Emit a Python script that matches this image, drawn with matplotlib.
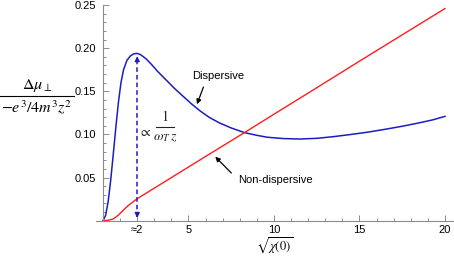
import numpy as np
import matplotlib
matplotlib.use("Agg")
import matplotlib.pyplot as plt
from matplotlib.lines import Line2D
from matplotlib.ticker import MultipleLocator, FixedLocator

# values
disp_x = [0.0, 0.15, 0.3, 0.45, 0.6, 0.75, 0.9, 1.05, 1.2, 1.4, 1.6, 1.8, 2.0,
          2.2, 2.5, 2.8, 3.2, 3.7, 4.2, 4.7, 5.2, 5.7, 6.2, 6.8, 7.5, 8.3,
          9.0, 9.6, 10.5, 11.5, 12.5, 13.5, 14.5, 15.5, 16.5, 17.5, 18.5,
          19.3, 20.0]
disp_y = [0.0, 0.006, 0.022, 0.047, 0.077, 0.108, 0.137, 0.160, 0.175, 0.186,
          0.191, 0.1935, 0.194, 0.1925, 0.188, 0.182, 0.173, 0.163, 0.153,
          0.144, 0.135, 0.127, 0.120, 0.1135, 0.1075, 0.102, 0.099, 0.0968,
          0.0953, 0.0947, 0.0955, 0.0975, 0.100, 0.1027, 0.106, 0.1095,
          0.1135, 0.117, 0.121]

nondisp_x = [0.0, 0.3, 0.6, 0.9, 1.2, 1.5, 2.0, 4.0, 6.0, 8.3, 10.0, 12.0,
             15.0, 20.0]
nondisp_y = [0.0, 0.0005, 0.002, 0.0065, 0.0125, 0.018, 0.0255, 0.050,
             0.0745, 0.1025, 0.1235, 0.148, 0.185, 0.246]

peak_x = 2.0
peak_y = 0.194

xticks = [2, 5, 10, 15, 20]
xticklabels = ["\u22482", "5", "10", "15", "20"]
yticks = [0.05, 0.10, 0.15, 0.20, 0.25]
yticklabels = ["0.05", "0.10", "0.15", "0.20", "0.25"]

plt.rcParams["font.family"] = ["Liberation Sans", "DejaVu Sans"]
plt.rcParams["mathtext.fontset"] = "stix"

blue = "#1c1cc4"
red = "#ff1c1c"
axcol = "#8c8c8c"

W, H = 454, 257
fig = plt.figure(figsize=(W / 100, H / 100), dpi=100)
ax = fig.add_axes([96 / W, (H - 220.7) / H, 357 / W, 215.6 / H])
ax.set_xlim(-0.41, 20.47)
ax.set_ylim(0, 0.25)

ax.plot(disp_x, disp_y, color=blue, lw=1.1)
ax.plot(nondisp_x, nondisp_y, color=red, lw=1.0)

# dashed double arrow at the peak
ax.plot([peak_x, peak_x], [0.004, peak_y - 0.004], color=blue, lw=1.1,
        ls=(0, (3, 2)))
ax.annotate("", xy=(peak_x, peak_y), xytext=(peak_x, peak_y - 0.012),
            arrowprops=dict(arrowstyle="-|>", color=blue, lw=1.0,
                            mutation_scale=7))
ax.annotate("", xy=(peak_x, 0.0), xytext=(peak_x, 0.012),
            arrowprops=dict(arrowstyle="-|>", color=blue, lw=1.0,
                            mutation_scale=7))


def px(x, y):
    # pixel position (from top-left) -> figure fraction
    return x / W, (H - y) / H


def fraction(xc, ybar, half, num, den, size, color="black", gap=2):
    fig.text(*px(xc, ybar - gap), num, fontsize=size, ha="center",
             va="bottom", color=color)
    fig.text(*px(xc, ybar + gap), den, fontsize=size, ha="center",
             va="top", color=color)
    x0, y0 = px(xc - half, ybar)
    x1, _ = px(xc + half, ybar)
    fig.add_artist(Line2D([x0, x1], [y0, y0], color=color, lw=0.8))


# proportional-to label
fig.text(*px(144, 132), r"$\propto$", fontsize=10, ha="center",
         va="center", color="#222222")
fraction(165, 127, 9, r"$1$", r"$\omega_T\, z$", 10, color="#222222",
         gap=3)

# labels with arrows
ax.text(6.73, 0.168, "Dispersive", fontsize=8, ha="center", va="center")
ax.annotate("", xy=(5.44, 0.132), xytext=(5.93, 0.158),
            arrowprops=dict(arrowstyle="-|>", color="black", lw=0.9,
                            mutation_scale=7))
ax.text(7.9, 0.047, "Non-dispersive", fontsize=8, ha="left", va="center")
ax.annotate("", xy=(6.45, 0.0765), xytext=(7.62, 0.053),
            arrowprops=dict(arrowstyle="-|>", color="black", lw=0.9,
                            mutation_scale=7))

# axes in Mathematica style
for s in ["top", "right"]:
    ax.spines[s].set_visible(False)
ax.spines["left"].set_position(("data", 0))
ax.spines["bottom"].set_position(("data", 0))
for s in ["left", "bottom"]:
    ax.spines[s].set_color(axcol)
    ax.spines[s].set_linewidth(0.8)

ax.xaxis.set_major_locator(FixedLocator(xticks))
ax.set_xticklabels(xticklabels)
ax.xaxis.set_minor_locator(MultipleLocator(1))
ax.yaxis.set_major_locator(FixedLocator(yticks))
ax.set_yticklabels(yticklabels)
ax.yaxis.set_minor_locator(MultipleLocator(0.01))
ax.tick_params(which="both", direction="in", color=axcol, width=0.7,
               labelsize=8)
ax.tick_params(which="major", length=4)
ax.tick_params(which="minor", length=2.2)
ax.tick_params(axis="y", pad=5)
ax.tick_params(axis="x", pad=3)

# axis labels
fig.text(*px(275, 236), r"$\sqrt{\chi(0)}$", fontsize=9, ha="center",
         va="top")
fraction(37, 96, 37, r"$\Delta\mu_\perp$", r"$-e^3/4m^3z^2$", 11.5)

fig.savefig("out.png", dpi=100)
